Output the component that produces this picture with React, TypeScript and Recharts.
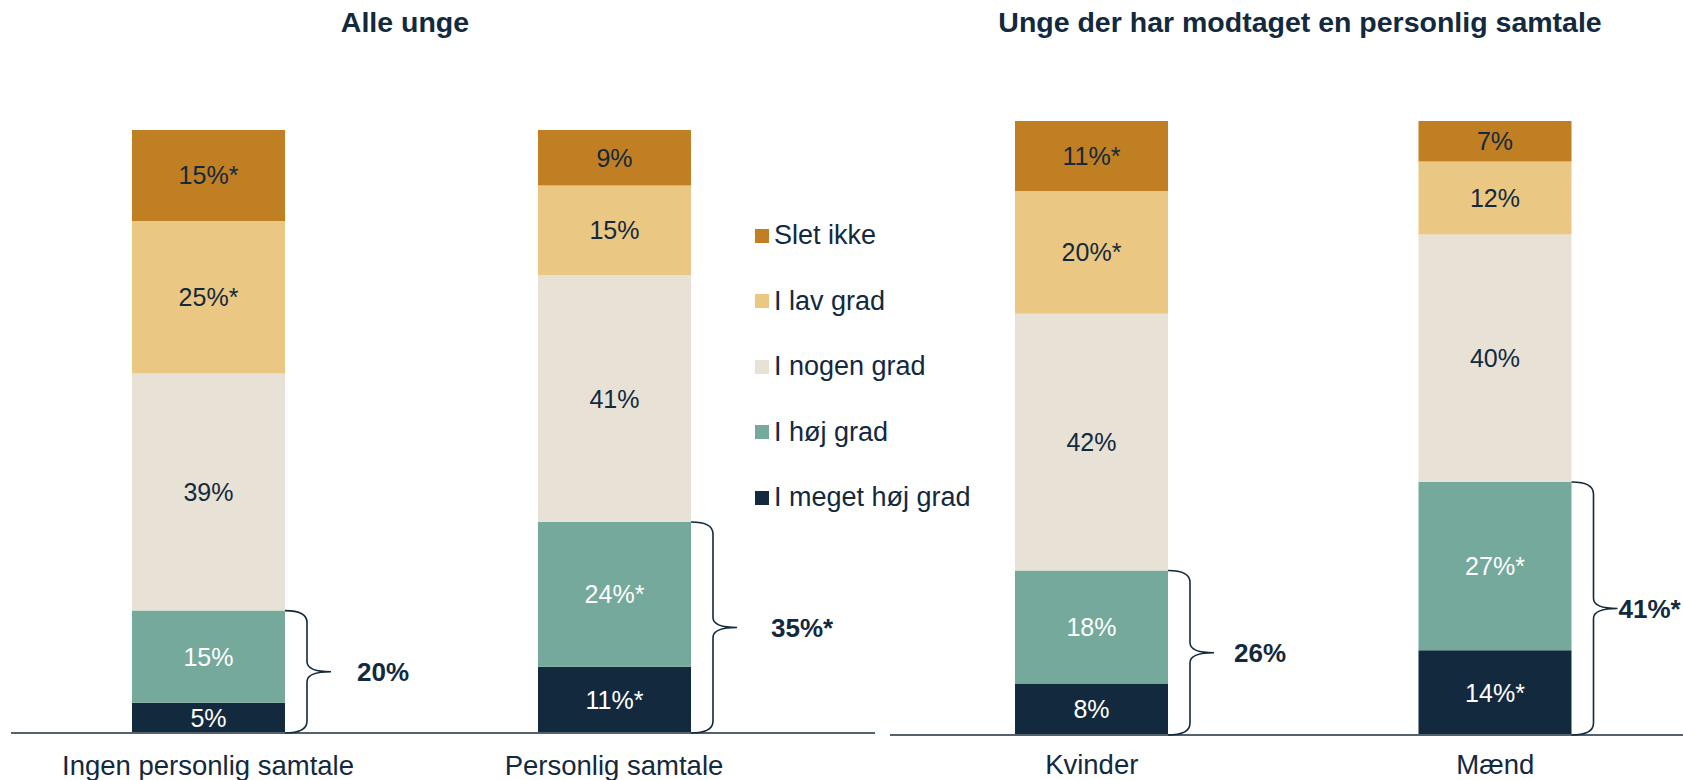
import React from 'react';
import { Bar, BarChart, LabelList, Legend, XAxis, YAxis } from 'recharts';

const INK = '#13293d';
const FONT = '"Liberation Sans", Arial, sans-serif';

const seriesNames = ['I meget høj grad', 'I høj grad', 'I nogen grad', 'I lav grad', 'Slet ikke'];
const seriesColors = ['#13293d', '#74a99b', '#e8e1d5', '#ebc784', '#c17f24'];
const seriesInk = ['#ffffff', '#ffffff', INK, INK, INK];

// Alle unge
const leftCategories = ['Ingen personlig samtale', 'Personlig samtale'];
const leftMegetHoj = [5.0, 11.0];
const leftHoj = [15.3, 24.0];
const leftNogen = [39.3, 40.9];
const leftLav = [25.3, 14.9];
const leftSlet = [15.1, 9.2];
const leftLabels = [
  ['5%', '11%*'],
  ['15%', '24%*'],
  ['39%', '41%'],
  ['25%*', '15%'],
  ['15%*', '9%'],
];
const leftBrace = ['20%', '35%*'];

// Unge der har modtaget en personlig samtale
const rightCategories = ['Kvinder', 'Mænd'];
const rightMegetHoj = [8.4, 13.8];
const rightHoj = [18.4, 27.4];
const rightNogen = [41.8, 40.3];
const rightLav = [20.0, 11.9];
const rightSlet = [11.4, 6.6];
const rightLabels = [
  ['8%', '14%*'],
  ['18%', '27%*'],
  ['42%', '40%'],
  ['20%*', '12%'],
  ['11%*', '7%'],
];
const rightBrace = ['26%', '41%*'];

const keys = ['mh', 'h', 'n', 'l', 's'];

function buildRows(cats: string[], series: number[][], labels: string[][], brace: string[]) {
  return cats.map((name, i) => {
    const row: any = { name, brace: brace[i] };
    keys.forEach((k, j) => {
      row[k] = series[j][i];
      row[k + 'Label'] = labels[j][i];
    });
    return row;
  });
}

const leftData = buildRows(leftCategories, [leftMegetHoj, leftHoj, leftNogen, leftLav, leftSlet], leftLabels, leftBrace);
const rightData = buildRows(rightCategories, [rightMegetHoj, rightHoj, rightNogen, rightLav, rightSlet], rightLabels, rightBrace);

// curly brace round the two "høj grad" segments, drawn from the bar's own box
function makeBrace(data: any[], gaps: number[]) {
  return (props: any) => {
    const vb = props.viewBox || props;
    const idx = props.index ?? 0;
    const row = data[idx];
    if (!row || vb.x == null) return null;
    const h = Math.abs(vb.height);
    const top = Math.min(vb.y, vb.y + vb.height);
    const bot = top + h + (h * row.mh) / row.h;
    const x0 = vb.x + vb.width;
    const xv = x0 + 22;
    const tip = x0 + 46;
    const mid = (top + bot) / 2;
    const d = `M${x0},${top} Q${xv},${top} ${xv},${top + 12} L${xv},${mid - 10} Q${xv},${mid} ${tip},${mid} Q${xv},${mid} ${xv},${mid + 10} L${xv},${bot - 12} Q${xv},${bot} ${x0},${bot}`;
    return (
      <g>
        <path d={d} fill="none" stroke={INK} strokeWidth={1.6} />
        <text x={x0 + gaps[idx]} y={mid} dy="0.36em" fill={INK} fontSize={26} fontWeight={700} fontFamily={FONT}>
          {row.brace}
        </text>
      </g>
    );
  };
}

const renderLegend = (props: any) => {
  const items = [...(props.payload || [])].sort(
    (a: any, b: any) => seriesNames.indexOf(b.value) - seriesNames.indexOf(a.value)
  );
  return (
    <div style={{ fontFamily: FONT }}>
      {items.map((it: any) => (
        <div key={it.value} style={{ height: 65.5, display: 'flex', alignItems: 'center' }}>
          <span
            style={{ width: 14, height: 14, flexShrink: 0, background: it.color, display: 'inline-block', marginRight: 5 }}
          />
          <span style={{ fontSize: 27, color: INK, whiteSpace: 'nowrap' }}>{it.value}</span>
        </div>
      ))}
    </div>
  );
};

function StackChart(p: {
  data: any[];
  width: number;
  margin: any;
  axisHeight: number;
  padding: any;
  tickMargin: number;
  gaps: number[];
  legend?: boolean;
}) {
  return (
    <BarChart width={p.width} height={780} data={p.data} margin={p.margin} barSize={153}>
      <XAxis
        dataKey="name"
        height={p.axisHeight}
        padding={p.padding}
        tickLine={false}
        tickMargin={p.tickMargin}
        axisLine={{ stroke: '#52626f', strokeWidth: 2 }}
        tick={{ fill: INK, fontSize: 27.5, fontFamily: FONT }}
        interval={0}
      />
      <YAxis hide domain={[0, 100]} />
      {keys.map((k, j) => (
        <Bar key={k} dataKey={k} name={seriesNames[j]} stackId="a" fill={seriesColors[j]} isAnimationActive={false}>
          <LabelList dataKey={k + 'Label'} position="center" fill={seriesInk[j]} fontSize={25} fontFamily={FONT} />
          {k === 'h' && <LabelList dataKey="brace" content={makeBrace(p.data, p.gaps)} />}
        </Bar>
      ))}
      {p.legend && (
        <Legend
          layout="vertical"
          align="center"
          verticalAlign="middle"
          content={renderLegend}
          wrapperStyle={{ left: 755, top: 203, width: 260, height: 330 }}
        />
      )}
    </BarChart>
  );
}

export default function App() {
  const title: React.CSSProperties = {
    position: 'absolute',
    top: 4,
    height: 36,
    lineHeight: '36px',
    fontFamily: FONT,
    fontWeight: 700,
    fontSize: 28.5,
    color: INK,
    textAlign: 'center',
    whiteSpace: 'nowrap',
  };
  return (
    <div
      style={{ position: 'fixed', left: 0, top: 0, width: 1683, height: 780, overflow: 'hidden', background: '#fff' }}
    >
      <div style={{ ...title, left: 205, width: 400 }}>Alle unge</div>
      <div style={{ ...title, left: 950, width: 700 }}>Unge der har modtaget en personlig samtale</div>
      <div style={{ position: 'absolute', left: 0, top: 0 }}>
        <StackChart
          data={leftData}
          width={880}
          margin={{ top: 130, right: 5, bottom: 0, left: 11 }}
          axisHeight={47}
          padding={{ left: -6, right: 58 }}
          tickMargin={16}
          gaps={[72, 80]}
          legend
        />
      </div>
      <div style={{ position: 'absolute', left: 880, top: 0 }}>
        <StackChart
          data={rightData}
          width={820}
          margin={{ top: 121, right: 3, bottom: 0, left: 10 }}
          axisHeight={45}
          padding={{ left: 0, right: 0 }}
          tickMargin={13}
          gaps={[66, 47]}
        />
      </div>
    </div>
  );
}
